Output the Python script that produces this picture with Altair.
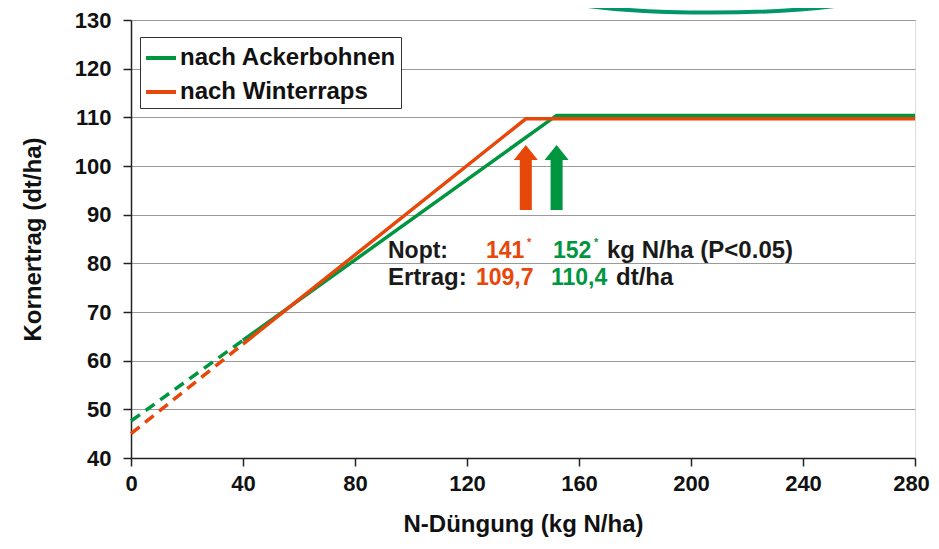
import altair as alt
import pandas as pd

# ---- data ----
series = ["nach Ackerbohnen", "nach Winterraps"]
colors = ["#00963f", "#e8470a"]

gruen_x = [0, 40, 152, 280]
gruen_y = [47.6, 64.2, 110.4, 110.4]
raps_x = [0, 40, 141, 280]
raps_y = [45.0, 63.4, 109.7, 109.7]

nopt = [152, 141]            # kg N/ha
x_ticks = [0, 40, 80, 120, 160, 200, 240, 280]
y_ticks = [40, 50, 60, 70, 80, 90, 100, 110, 120, 130]

line1 = ["Nopt:", "141", "*", "152", "*", "kg N/ha (P<0.05)"]
line2 = ["Ertrag:", "109,7", "110,4", "dt/ha"]

FONT = "Liberation Sans"

def seg(xs, ys, name, idx):
    return pd.DataFrame({"N": [xs[i] for i in idx], "Ertrag": [ys[i] for i in idx], "Serie": name})

solid = pd.concat([seg(gruen_x, gruen_y, series[0], [1, 2, 3]),
                   seg(raps_x, raps_y, series[1], [1, 2, 3])])
dashed = pd.concat([seg(gruen_x, gruen_y, series[0], [0, 1]),
                    seg(raps_x, raps_y, series[1], [0, 1])])
arrows = pd.DataFrame({"N": nopt, "Serie": series})

xscale = alt.Scale(domain=[0, 280], nice=False, zero=False)
yscale = alt.Scale(domain=[40, 130], nice=False, zero=False)
cscale = alt.Scale(domain=series, range=colors)

axis_common = dict(labelFont=FONT, titleFont=FONT, labelFontWeight="bold",
                   titleFontWeight="bold", labelColor="#111", titleColor="#111",
                   labelFontSize=22, titleFontSize=24, ticks=True, tickSize=8,
                   tickColor="#222", tickWidth=1.5, domainColor="#222",
                   domainWidth=1.5, format="d", labelFlush=False)

xenc = alt.X("N:Q", scale=xscale,
             axis=alt.Axis(values=x_ticks, title="N-Düngung (kg N/ha)", grid=False,
                           labelPadding=7, titlePadding=18,
                           labelOffset={"condition": {"test": f"datum.value == {x_ticks[-1]}",
                                                      "value": -4}, "value": 0},
                           **axis_common))
yenc = alt.Y("Ertrag:Q", scale=yscale,
             axis=alt.Axis(values=y_ticks, title="Kornertrag (dt/ha)", grid=True,
                           gridColor="#9a9a9a", gridWidth=1,
                           labelPadding=12, titlePadding=29, **axis_common))

legend = alt.Legend(title=None, orient="none", legendX=9, legendY=17,
                    symbolType="stroke", symbolSize=900, symbolStrokeWidth=4,
                    labelFontSize=24, labelFont=FONT, labelFontWeight="bold",
                    labelColor="#111", strokeColor="#333", fillColor="white",
                    padding=4, rowPadding=5, labelOffset=2, labelLimit=0)
color = alt.Color("Serie:N", scale=cscale, legend=legend)

lines_dashed = alt.Chart(dashed).mark_line(strokeWidth=3.5, strokeDash=[11, 7]).encode(
    x=xenc, y=yenc, color=color, order=alt.Order("N:Q"))

lines_solid = alt.Chart(solid).mark_line(strokeWidth=3.5).encode(
    x="N:Q", y="Ertrag:Q", color=color, order=alt.Order("N:Q"))

arrow_path = "M0,-1L0.37,-0.54L0.185,-0.54L0.185,1L-0.185,1L-0.185,-0.54L-0.37,-0.54Z"
arrow_marks = alt.Chart(arrows).mark_point(shape=arrow_path, size=4225, filled=True,
                                           opacity=1, strokeWidth=0).encode(
    x="N:Q", y=alt.value(157.5), color=color)

def txt(s, px, py, col, size=23):
    return alt.Chart(pd.DataFrame({"t": [s]})).mark_text(
        align="left", baseline="alphabetic", font=FONT, fontWeight="bold",
        fontSize=size, color=col).encode(x=alt.value(px), y=alt.value(py), text="t:N")

DARK = "#1a1a1a"
texts = [
    txt(line1[0], 257, 238, DARK),
    txt(line1[1], 355, 238, colors[1]),
    txt(line1[2], 396, 226, colors[1], 11),
    txt(line1[3], 422, 238, colors[0]),
    txt(line1[4], 463, 226, colors[0], 11),
    txt(line1[5], 476, 238, DARK, 24),
    txt(line2[0], 257, 265, DARK, 24),
    txt(line2[1], 345, 265, colors[1]),
    txt(line2[2], 420, 265, colors[0]),
    txt(line2[3], 485, 265, DARK, 24),
]

ellipse = ("M-1,0C-1,0.0713,-0.5523,0.129,0,0.129C0.5523,0.129,1,0.0713,1,0"
           "C1,-0.0713,0.5523,-0.129,0,-0.129C-0.5523,-0.129,-1,-0.0713,-1,0Z")
arc = alt.Chart(pd.DataFrame({"a": [0]})).mark_point(
    shape=ellipse, size=122500, filled=False,
    stroke="#00956a", strokeWidth=4, opacity=1).encode(
    x=alt.value(580), y=alt.value(-30))

chart = alt.layer(lines_dashed, lines_solid, arrow_marks, *texts, arc).properties(
    width=784, height=438,
    autosize=alt.AutoSizeParams(type="none"),
    padding={"left": 123, "top": 12, "right": 16, "bottom": 83},
).configure_view(stroke="#777", strokeWidth=2).configure(background="white")

chart.save("out.html", embed_options={"renderer": "svg", "actions": False})
